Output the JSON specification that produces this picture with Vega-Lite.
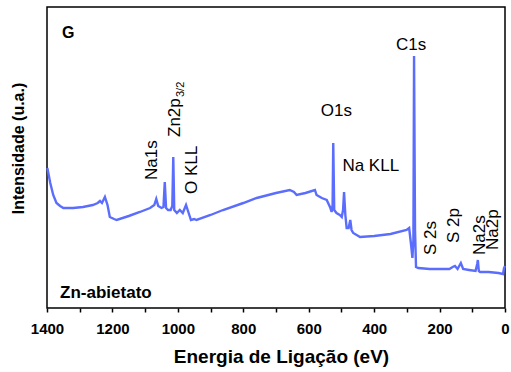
{
  "$schema": "https://vega.github.io/schema/vega-lite/v6.json",
  "width": 458,
  "height": 301,
  "autosize": "none",
  "padding": {"left": 47, "top": 7, "right": 6, "bottom": 64},
  "background": "white",
  "config": {
    "view": {"stroke": "black", "strokeWidth": 1.5},
    "font": "Liberation Sans"
  },
  "datasets": {
    "spectrum": [
      {"E": 1399, "h": 140}, {"E": 1390, "h": 125}, {"E": 1381, "h": 113}, {"E": 1371, "h": 105},
      {"E": 1360, "h": 102}, {"E": 1350, "h": 100}, {"E": 1320, "h": 100}, {"E": 1290, "h": 101},
      {"E": 1260, "h": 103}, {"E": 1245, "h": 105}, {"E": 1238, "h": 107}, {"E": 1232, "h": 105},
      {"E": 1223, "h": 111}, {"E": 1215, "h": 103}, {"E": 1208, "h": 91}, {"E": 1195, "h": 89},
      {"E": 1187, "h": 88}, {"E": 1150, "h": 92}, {"E": 1116, "h": 96}, {"E": 1085, "h": 100},
      {"E": 1072, "h": 103}, {"E": 1066, "h": 109}, {"E": 1060, "h": 102}, {"E": 1050, "h": 100},
      {"E": 1044, "h": 101}, {"E": 1040, "h": 126}, {"E": 1036, "h": 100}, {"E": 1030, "h": 98},
      {"E": 1022, "h": 98}, {"E": 1017, "h": 102}, {"E": 1014, "h": 151}, {"E": 1011, "h": 98},
      {"E": 1003, "h": 95}, {"E": 994, "h": 98}, {"E": 985, "h": 95}, {"E": 975, "h": 103},
      {"E": 968, "h": 96}, {"E": 960, "h": 88}, {"E": 950, "h": 89}, {"E": 943, "h": 88},
      {"E": 900, "h": 93}, {"E": 862, "h": 98}, {"E": 800, "h": 105}, {"E": 759, "h": 110},
      {"E": 700, "h": 115}, {"E": 658, "h": 118}, {"E": 645, "h": 116}, {"E": 637, "h": 113},
      {"E": 610, "h": 115}, {"E": 581, "h": 118}, {"E": 576, "h": 113}, {"E": 560, "h": 110},
      {"E": 545, "h": 108}, {"E": 535, "h": 101}, {"E": 530, "h": 96}, {"E": 527, "h": 103},
      {"E": 525, "h": 165}, {"E": 522, "h": 98}, {"E": 515, "h": 95}, {"E": 505, "h": 93},
      {"E": 499, "h": 91}, {"E": 495, "h": 98}, {"E": 492, "h": 116}, {"E": 488, "h": 93},
      {"E": 484, "h": 80}, {"E": 478, "h": 80}, {"E": 473, "h": 88}, {"E": 469, "h": 78},
      {"E": 464, "h": 75}, {"E": 443, "h": 71}, {"E": 400, "h": 72}, {"E": 350, "h": 74},
      {"E": 301, "h": 78}, {"E": 293, "h": 80}, {"E": 287, "h": 63}, {"E": 283, "h": 50},
      {"E": 280, "h": 68}, {"E": 278, "h": 252}, {"E": 275, "h": 78}, {"E": 272, "h": 41},
      {"E": 265, "h": 40}, {"E": 230, "h": 39}, {"E": 200, "h": 39}, {"E": 170, "h": 39},
      {"E": 160, "h": 41}, {"E": 153, "h": 42}, {"E": 145, "h": 39}, {"E": 135, "h": 45},
      {"E": 128, "h": 39}, {"E": 110, "h": 38}, {"E": 90, "h": 37}, {"E": 85, "h": 44},
      {"E": 83, "h": 48}, {"E": 80, "h": 37}, {"E": 76, "h": 36}, {"E": 50, "h": 36},
      {"E": 20, "h": 35}, {"E": 6, "h": 34}, {"E": 3, "h": 40}, {"E": 0, "h": 42}
    ],
    "hlabels": [
      {"E": 333, "h": 258, "t": "C1s"},
      {"E": 563, "h": 192, "t": "O1s"},
      {"E": 497, "h": 137, "t": "Na KLL"}
    ],
    "vlabels": [
      {"E": 1065, "h": 128, "t": "Na1s"},
      {"E": 994, "h": 171, "t": "Zn2p"},
      {"E": 942, "h": 114, "t": "O KLL"},
      {"E": 211, "h": 53, "t": "S 2s"},
      {"E": 141, "h": 65, "t": "S 2p"},
      {"E": 60, "h": 53, "t": "Na2s"},
      {"E": 21, "h": 58, "t": "Na2p"}
    ],
    "sub": [{"E": 981, "h": 211, "t": "3/2"}],
    "g": [{"E": 1354, "h": 270, "t": "G"}],
    "sample": [{"E": 1360, "h": 10, "t": "Zn-abietato"}]
  },
  "encoding": {
    "x": {
      "field": "E", "type": "quantitative",
      "scale": {"domain": [0, 1400], "reverse": true, "nice": false, "zero": false},
      "axis": {
        "title": "Energia de Ligação (eV)",
        "values": [0, 100, 200, 300, 400, 500, 600, 700, 800, 900, 1000, 1100, 1200, 1300, 1400],
        "labelExpr": "datum.value % 200 == 0 ? datum.label : ''",
        "format": "d",
        "grid": false, "domain": false,
        "ticks": true, "tickSize": 4, "tickColor": "black", "tickWidth": 1.5,
        "labelFont": "Liberation Sans", "labelFontWeight": "bold", "labelFontSize": 15,
        "labelColor": "black", "labelPadding": 9, "labelFlush": false, "labelOverlap": false,
        "titleFont": "Liberation Sans", "titleFontWeight": "bold", "titleFontSize": 19,
        "titleColor": "black", "titleX": 234, "titleY": 54, "titleBaseline": "alphabetic",
        "titleAlign": "center", "titleAnchor": null
      }
    },
    "y": {
      "field": "h", "type": "quantitative",
      "scale": {"domain": [0, 301], "nice": false, "zero": false},
      "axis": {
        "title": "Intensidade (u.a.)",
        "labels": false, "ticks": false, "domain": false, "grid": false,
        "titleFont": "Liberation Sans", "titleFontWeight": "bold", "titleFontSize": 16,
        "titleColor": "black", "titleX": -24, "titleY": 141, "titleBaseline": "alphabetic",
        "titleAlign": "center", "titleAngle": -90
      }
    }
  },
  "layer": [
    {
      "data": {"name": "spectrum"},
      "mark": {"type": "line", "color": "#5b6dfc", "strokeWidth": 2.4}
    },
    {
      "data": {"name": "hlabels"},
      "mark": {"type": "text", "align": "left", "baseline": "alphabetic", "fontSize": 17, "font": "Liberation Sans", "color": "black"},
      "encoding": {"text": {"field": "t"}}
    },
    {
      "data": {"name": "vlabels"},
      "mark": {"type": "text", "align": "left", "baseline": "alphabetic", "angle": 270, "fontSize": 17, "font": "Liberation Sans", "color": "black"},
      "encoding": {"text": {"field": "t"}}
    },
    {
      "data": {"name": "sub"},
      "mark": {"type": "text", "align": "left", "baseline": "alphabetic", "angle": 270, "fontSize": 11, "font": "Liberation Sans", "color": "black"},
      "encoding": {"text": {"field": "t"}}
    },
    {
      "data": {"name": "g"},
      "mark": {"type": "text", "align": "left", "baseline": "alphabetic", "fontSize": 16, "fontWeight": "bold", "font": "Liberation Sans", "color": "black"},
      "encoding": {"text": {"field": "t"}}
    },
    {
      "data": {"name": "sample"},
      "mark": {"type": "text", "align": "left", "baseline": "alphabetic", "fontSize": 17, "fontWeight": "bold", "font": "Liberation Sans", "color": "black"},
      "encoding": {"text": {"field": "t"}}
    }
  ]
}
